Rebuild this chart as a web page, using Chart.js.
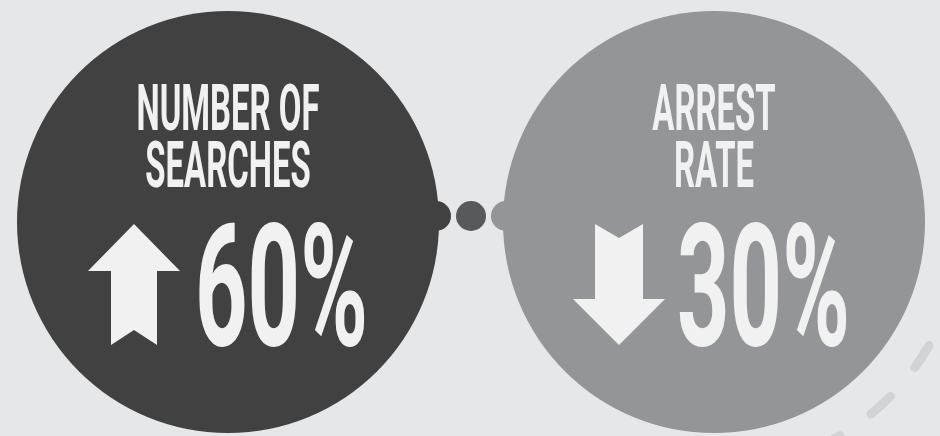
<!DOCTYPE html>
<html><head><meta charset="utf-8">
<script src="https://cdn.jsdelivr.net/npm/chart.js@4"></script>
<style>
html,body{margin:0;padding:0;background:#e6e7e8;overflow:hidden}
#wrap{width:940px;height:436px;position:relative}
</style>
</head><body>
<div id="wrap"><canvas id="c" aria-label="Number of searches up 60%, arrest rate down 30%"></canvas></div>
<script>
// ---- data ----
const metricLines = [['NUMBER OF', 'SEARCHES'], ['ARREST', 'RATE']];
const percentChange = [60, -30];
const valueLabels = percentChange.map(v => Math.abs(v) + '%');

// ---- layout & style (pixels) ----
const LAYOUT = {
  width: 940, height: 436,
  centersX: [228, 714], centerY: 222, radius: 211,
  dotY: 216, dotR: 15, dotOffsets: [-35, 0, 35],
  arcR: 248, arcWidth: 9, arcFrom: 20, arcTo: 66, arcDashStart: 29.9,
  headBaselines: [130, 187], headCap: 46, headWidthRef: 183,
  numBaseline: 345, numCap: 122, numWidthRef: 173, numDx: [53.5, 49.5],
  arrowDx: [-94, -95], arrowTop: 224
};
const COLORS = {
  circles: ['#414141', '#939598'],
  dots: ['#414141', '#58595b', '#939598'],
  text: '#f1f1f2', dash: '#d1d3d4'
};
const FONT = 'Roboto, "DejaVu Sans", sans-serif';

const circleData = percentChange.map((v, i) => ({x: LAYOUT.centersX[i], y: LAYOUT.centerY, r: LAYOUT.radius}));
const midX = (LAYOUT.centersX[0] + LAYOUT.centersX[1]) / 2;
const dotData = LAYOUT.dotOffsets.map(o => ({x: midX + o, y: LAYOUT.dotY, r: LAYOUT.dotR}));

const decorPlugin = {
  id: 'decor',
  afterDatasetsDraw(chart) {
    const ctx = chart.ctx;
    const xs = chart.scales.x, ys = chart.scales.y;
    const px = v => xs.getPixelForValue(v), py = v => ys.getPixelForValue(v);
    const unit = px(1) - px(0);

    // dashed arc decoration
    ctx.save();
    const rad = d => d * Math.PI / 180;
    const ar = LAYOUT.arcR * unit;
    ctx.beginPath();
    ctx.arc(px(LAYOUT.centersX[1]), py(LAYOUT.centerY), ar, rad(LAYOUT.arcFrom), rad(LAYOUT.arcTo));
    ctx.strokeStyle = COLORS.dash;
    ctx.lineWidth = LAYOUT.arcWidth;
    ctx.lineCap = 'round';
    const period = 64;
    ctx.setLineDash([26, 38]);
    const startDist = ar * rad(LAYOUT.arcDashStart - LAYOUT.arcFrom);
    ctx.lineDashOffset = ((period - startDist) % period + period) % period;
    ctx.stroke();
    ctx.restore();

    // headings
    ctx.save();
    ctx.fillStyle = COLORS.text;
    ctx.textAlign = 'center';
    ctx.textBaseline = 'alphabetic';
    const headSize = LAYOUT.headCap / 0.711;
    ctx.font = 'bold ' + headSize + 'px ' + FONT;
    const hsx = LAYOUT.headWidthRef / ctx.measureText(metricLines[0][0]).width;
    metricLines.forEach((lines, i) => {
      lines.forEach((t, j) => {
        ctx.save();
        ctx.translate(px(LAYOUT.centersX[i]), py(LAYOUT.headBaselines[j]));
        ctx.scale(hsx, 1);
        ctx.fillText(t, 0, 0);
        ctx.restore();
      });
    });
    // big numbers
    const numSize = LAYOUT.numCap / 0.711;
    ctx.font = 'bold ' + numSize + 'px ' + FONT;
    const nsx = LAYOUT.numWidthRef / ctx.measureText(valueLabels[0]).width;
    valueLabels.forEach((t, i) => {
      ctx.save();
      ctx.translate(px(LAYOUT.centersX[i] + LAYOUT.numDx[i]), py(LAYOUT.numBaseline));
      ctx.scale(nsx, 1);
      ctx.fillText(t, 0, 0);
      ctx.restore();
    });
    // arrows (direction from sign of change)
    const up = [[0,0],[46,47],[23,47],[23,121],[0,106],[-23,121],[-23,47],[-46,47]];
    const down = [[-24,0],[0,14],[24,0],[24,75],[46,75],[0,121],[-46,75],[-24,75]];
    percentChange.forEach((v, i) => {
      const shape = v >= 0 ? up : down;
      const ax = LAYOUT.centersX[i] + LAYOUT.arrowDx[i];
      ctx.beginPath();
      shape.forEach(([dx, dy], k) => {
        const X = px(ax + dx), Y = py(LAYOUT.arrowTop + dy);
        k ? ctx.lineTo(X, Y) : ctx.moveTo(X, Y);
      });
      ctx.closePath();
      ctx.fill();
    });
    ctx.restore();
  }
};

new Chart(document.getElementById('c'), {
  type: 'bubble',
  data: {
    datasets: [
      {label: 'connector', data: dotData, backgroundColor: COLORS.dots, borderWidth: 0, hoverRadius: 0, clip: false},
      {label: 'metrics', data: circleData, backgroundColor: COLORS.circles, borderWidth: 0, hoverRadius: 0, clip: false}
    ]
  },
  options: {
    responsive: true, maintainAspectRatio: false, animation: false, events: [],
    layout: {padding: 0, autoPadding: false},
    plugins: {legend: {display: false}, tooltip: {enabled: false}, title: {display: false}},
    scales: {
      x: {type: 'linear', min: 0, max: LAYOUT.width, display: false},
      y: {type: 'linear', min: 0, max: LAYOUT.height, reverse: true, display: false}
    }
  },
  plugins: [decorPlugin]
});
</script>
</body></html>
